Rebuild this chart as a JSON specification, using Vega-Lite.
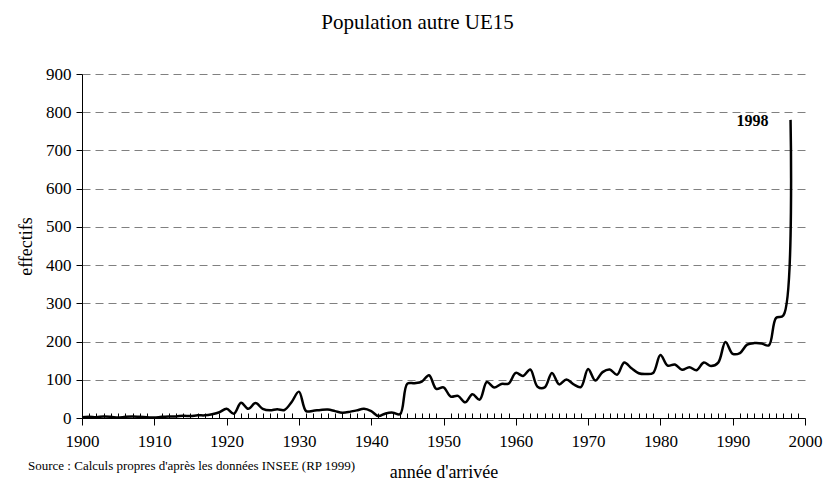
{
  "$schema": "https://vega.github.io/schema/vega-lite/v6.json",
  "width": 723,
  "height": 344,
  "autosize": {"type": "none"},
  "padding": {"left": 82, "top": 74, "right": 22, "bottom": 81},
  "background": "white",
  "title": {
    "text": "Source : Calculs propres d'après les données INSEE (RP 1999)",
    "orient": "bottom",
    "anchor": "start",
    "frame": "group",
    "dx": -54,
    "offset": -11,
    "baseline": "alphabetic",
    "fontSize": 13,
    "font": "Liberation Serif",
    "fontWeight": "normal",
    "color": "black"
  },
  "config": {"view": {"stroke": null}, "font": "Liberation Serif"},
  "data": {
    "values": [
      {"year": 1900, "value": 2}, {"year": 1901, "value": 3}, {"year": 1902, "value": 2},
      {"year": 1903, "value": 4}, {"year": 1904, "value": 3}, {"year": 1905, "value": 1},
      {"year": 1906, "value": 3}, {"year": 1907, "value": 4}, {"year": 1908, "value": 3},
      {"year": 1909, "value": 2}, {"year": 1910, "value": 1}, {"year": 1911, "value": 3},
      {"year": 1912, "value": 4}, {"year": 1913, "value": 4}, {"year": 1914, "value": 6},
      {"year": 1915, "value": 5}, {"year": 1916, "value": 7}, {"year": 1917, "value": 7},
      {"year": 1918, "value": 10}, {"year": 1919, "value": 15}, {"year": 1920, "value": 24},
      {"year": 1921, "value": 11}, {"year": 1922, "value": 40}, {"year": 1923, "value": 24},
      {"year": 1924, "value": 39}, {"year": 1925, "value": 24}, {"year": 1926, "value": 20},
      {"year": 1927, "value": 23}, {"year": 1928, "value": 21}, {"year": 1929, "value": 42},
      {"year": 1930, "value": 69}, {"year": 1931, "value": 18}, {"year": 1932, "value": 19},
      {"year": 1933, "value": 21}, {"year": 1934, "value": 22}, {"year": 1935, "value": 18},
      {"year": 1936, "value": 14}, {"year": 1937, "value": 16}, {"year": 1938, "value": 20},
      {"year": 1939, "value": 24}, {"year": 1940, "value": 18}, {"year": 1941, "value": 5},
      {"year": 1942, "value": 12}, {"year": 1943, "value": 14}, {"year": 1944, "value": 10},
      {"year": 1945, "value": 90}, {"year": 1946, "value": 91}, {"year": 1947, "value": 95},
      {"year": 1948, "value": 112}, {"year": 1949, "value": 76}, {"year": 1950, "value": 80},
      {"year": 1951, "value": 56}, {"year": 1952, "value": 58}, {"year": 1953, "value": 41},
      {"year": 1954, "value": 62}, {"year": 1955, "value": 48}, {"year": 1956, "value": 94},
      {"year": 1957, "value": 80}, {"year": 1958, "value": 89}, {"year": 1959, "value": 90},
      {"year": 1960, "value": 118}, {"year": 1961, "value": 110}, {"year": 1962, "value": 127},
      {"year": 1963, "value": 82}, {"year": 1964, "value": 80}, {"year": 1965, "value": 118},
      {"year": 1966, "value": 88}, {"year": 1967, "value": 101}, {"year": 1968, "value": 88},
      {"year": 1969, "value": 81}, {"year": 1970, "value": 128}, {"year": 1971, "value": 98},
      {"year": 1972, "value": 120}, {"year": 1973, "value": 127}, {"year": 1974, "value": 113},
      {"year": 1975, "value": 145}, {"year": 1976, "value": 130}, {"year": 1977, "value": 117},
      {"year": 1978, "value": 115}, {"year": 1979, "value": 118}, {"year": 1980, "value": 165},
      {"year": 1981, "value": 137}, {"year": 1982, "value": 140}, {"year": 1983, "value": 126},
      {"year": 1984, "value": 133}, {"year": 1985, "value": 125}, {"year": 1986, "value": 145},
      {"year": 1987, "value": 136}, {"year": 1988, "value": 145}, {"year": 1989, "value": 199},
      {"year": 1990, "value": 168}, {"year": 1991, "value": 170}, {"year": 1992, "value": 192},
      {"year": 1993, "value": 196}, {"year": 1994, "value": 195}, {"year": 1995, "value": 190},
      {"year": 1996, "value": 262}, {"year": 1997, "value": 268}, {"year": 1998, "value": 780}
    ]
  },
  "layer": [
    {
      "mark": {"type": "line", "interpolate": "catmull-rom", "color": "black", "strokeWidth": 2.5},
      "encoding": {
        "x": {
          "field": "year",
          "type": "quantitative",
          "scale": {"domain": [1900, 2000], "nice": false, "zero": false},
          "axis": {
            "orient": "bottom",
            "title": "année d'arrivée",
            "values": [1900,1901,1902,1903,1904,1905,1906,1907,1908,1909,1910,1911,1912,1913,1914,1915,1916,1917,1918,1919,1920,1921,1922,1923,1924,1925,1926,1927,1928,1929,1930,1931,1932,1933,1934,1935,1936,1937,1938,1939,1940,1941,1942,1943,1944,1945,1946,1947,1948,1949,1950,1951,1952,1953,1954,1955,1956,1957,1958,1959,1960,1961,1962,1963,1964,1965,1966,1967,1968,1969,1970,1971,1972,1973,1974,1975,1976,1977,1978,1979,1980,1981,1982,1983,1984,1985,1986,1987,1988,1989,1990,1991,1992,1993,1994,1995,1996,1997,1998,1999,2000],
            "format": "d",
            "labelExpr": "datum.value % 10 === 0 ? datum.label : ''",
            "tickSize": {"condition": {"test": "datum.value % 10 === 0", "value": 7}, "value": -5},
            "tickColor": "black",
            "tickWidth": 1,
            "domainColor": "black",
            "domainWidth": 1,
            "grid": false,
            "labelFontSize": 17,
            "labelColor": "black",
            "labelPadding": 8,
            "labelOverlap": false,
            "labelFlush": false,
            "titleFontSize": 18,
            "titleFontWeight": "normal",
            "titleColor": "black",
            "titlePadding": 14
          }
        },
        "y": {
          "field": "value",
          "type": "quantitative",
          "scale": {"domain": [0, 900], "nice": false},
          "axis": {
            "values": [0, 100, 200, 300, 400, 500, 600, 700, 800, 900],
            "title": "effectifs",
            "grid": true,
            "gridDash": [8, 5],
            "gridColor": "#808080",
            "gridWidth": 1,
            "tickSize": 6,
            "tickColor": "black",
            "domainColor": "black",
            "domainWidth": 1,
            "labelFontSize": 17,
            "labelColor": "black",
            "labelPadding": 5,
            "labelOverlap": false,
            "labelFlush": false,
            "titleFontSize": 18,
            "titleFontWeight": "normal",
            "titleColor": "black",
            "titlePadding": 10
          }
        }
      }
    },
    {
      "transform": [{"filter": "datum.year === 1998"}],
      "mark": {"type": "text", "align": "right", "baseline": "alphabetic", "dx": -22, "dy": 6, "fontWeight": "bold", "fontSize": 16, "color": "black", "font": "Liberation Serif"},
      "encoding": {
        "x": {
          "field": "year",
          "type": "quantitative",
          "axis": {
            "orient": "top",
            "title": "Population autre UE15",
            "labels": false,
            "ticks": false,
            "domain": false,
            "grid": false,
            "titleFontSize": 21,
            "titleFontWeight": "normal",
            "titleColor": "black",
            "titlePadding": 42,
            "titleX": 335
          }
        },
        "y": {"field": "value", "type": "quantitative", "axis": null},
        "text": {"field": "year", "type": "quantitative", "format": "d"}
      }
    }
  ],
  "resolve": {"axis": {"x": "independent", "y": "independent"}}
}
